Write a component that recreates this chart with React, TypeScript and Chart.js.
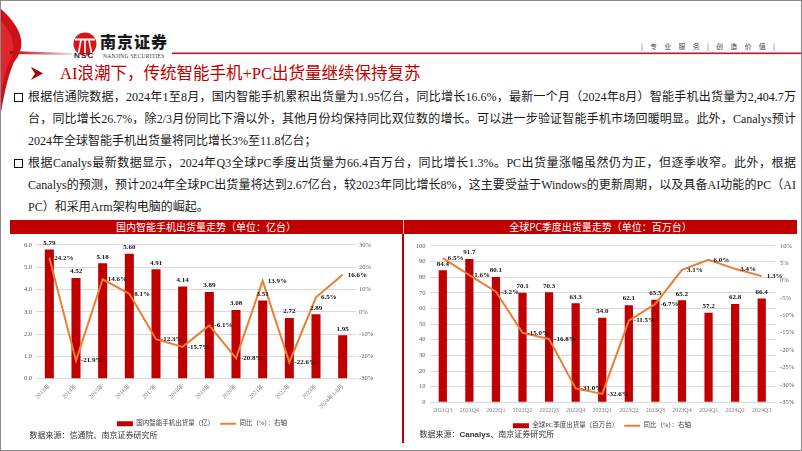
import React, { useEffect, useRef } from 'react';
import { Chart, registerables } from 'chart.js';

Chart.register(...registerables);

// ---------- data ----------
const phoneCategories = ['2013年', '2014年', '2015年', '2016年', '2017年', '2018年', '2019年', '2020年', '2021年', '2022年', '2023年', '2024年1-8月'];
const phoneShipments = [5.79, 4.52, 5.18, 5.6, 4.91, 4.14, 3.89, 3.08, 3.51, 2.72, 2.89, 1.95];
const phoneYoY = [24.2, -21.9, 14.6, 8.1, -12.3, -15.7, -6.1, -20.8, 13.9, -22.6, 6.5, 16.6];
const phoneLeftAxis = { min: 0, max: 6, step: 1 };
const phoneRightAxis = { min: -30, max: 30, step: 10 };

const pcCategories = ['2021Q3', '2021Q4', '2022Q1', '2022Q2', '2022Q3', '2022Q4', '2023Q1', '2023Q2', '2023Q3', '2023Q4', '2024Q1', '2024Q2', '2024Q3'];
const pcShipments = [84.4, 91.7, 80.1, 70.1, 70.3, 63.3, 54.0, 62.1, 65.5, 65.2, 57.2, 62.8, 66.4];
const pcYoY = [6.5, 1.6, -3.2, -15.0, -16.8, -31.0, -32.6, -11.5, -6.7, 3.1, 6.0, 3.4, 1.3];
const pcLeftAxis = { min: 0, max: 100, step: 10 };
const pcRightAxis = { min: -35, max: 10, step: 5 };

const phoneLegend = ['国内智能手机出货量（亿）', '同比（%）：右轴'];
const pcLegend = ['全球PC季度出货量（百万台）', '同比（%）：右轴'];

const paragraph1 = [
  '根据信通院数据，2024年1至8月，国内智能手机累积出货量为1.95亿台，同比增长16.6%，最新一个月（2024年8月）智能手机出货量为2,404.7万',
  '台，同比增长26.7%，除2/3月份同比下滑以外，其他月份均保持同比双位数的增长。可以进一步验证智能手机市场回暖明显。此外，Canalys预计',
  '2024年全球智能手机出货量将同比增长3%至11.8亿台；',
];
const paragraph2 = [
  '根据Canalys最新数据显示，2024年Q3全球PC季度出货量为66.4百万台，同比增长1.3%。PC出货量涨幅虽然仍为正，但逐季收窄。此外，根据',
  'Canalys的预测，预计2024年全球PC出货量将达到2.67亿台，较2023年同比增长8%，这主要受益于Windows的更新周期，以及具备AI功能的PC（AI',
  'PC）和采用Arm架构电脑的崛起。',
];

// ---------- styles ----------
const RED = '#C00000';
const ORANGE = '#ED7D31';
const SERIF = "'Liberation Serif', 'Noto Sans CJK SC', serif";

Chart.defaults.font.family = SERIF;

const valueLabels = {
  id: 'valueLabels',
  afterDatasetsDraw(chart: any, _args: any, opts: any) {
    const ctx = chart.ctx;
    ctx.save();
    ctx.font = `bold ${opts.size || 7}px ${SERIF}`;
    ctx.fillStyle = '#111';
    chart.data.datasets.forEach((ds: any, i: number) => {
      const meta = chart.getDatasetMeta(i);
      meta.data.forEach((el: any, j: number) => {
        const v = ds.data[j];
        if (ds.type === 'line') {
          ctx.textAlign = 'left';
          ctx.textBaseline = 'middle';
          ctx.fillText(v.toFixed(1) + '%', el.x + 5, el.y);
        } else {
          ctx.textAlign = 'center';
          ctx.textBaseline = 'bottom';
          ctx.fillText(v.toFixed(opts.barDecimals), el.x, el.y - 3);
        }
      });
    });
    ctx.restore();
  },
};

function buildConfig(p: any): any {
  return {
    type: 'bar',
    data: {
      labels: p.categories,
      datasets: [
        {
          type: 'bar',
          label: p.legend[0],
          data: p.bars,
          backgroundColor: RED,
          borderWidth: 0,
          barPercentage: p.barPct,
          categoryPercentage: 1,
          yAxisID: 'y',
          order: 2,
        },
        {
          type: 'line',
          label: p.legend[1],
          data: p.line,
          borderColor: ORANGE,
          backgroundColor: ORANGE,
          borderWidth: 2,
          pointRadius: 0,
          tension: 0,
          yAxisID: 'y1',
          order: 1,
        },
      ],
    },
    options: {
      responsive: false,
      animation: false,
      layout: { padding: { top: p.padTop, left: 0, right: 0, bottom: 0 } },
      plugins: {
        tooltip: { enabled: false },
        valueLabels: { size: 7, barDecimals: p.barDecimals },
        legend: {
          position: 'bottom',
          labels: {
            usePointStyle: true,
            pointStyleWidth: 16,
            boxHeight: 5,
            padding: 6,
            font: { size: 6.5 },
            color: '#404040',
            generateLabels: (chart: any) =>
              chart.data.datasets.map((ds: any, i: number) => ({
                text: ds.label,
                fillStyle: ds.type === 'line' ? ORANGE : RED,
                strokeStyle: ds.type === 'line' ? ORANGE : RED,
                lineWidth: ds.type === 'line' ? 2 : 0,
                pointStyle: ds.type === 'line' ? 'line' : 'rect',
                datasetIndex: i,
                hidden: false,
                fontColor: '#404040',
              })),
          },
        },
      },
      scales: {
        x: {
          grid: { display: false, drawTicks: false },
          border: { display: false },
          ticks: {
            autoSkip: false,
            minRotation: p.rotation,
            maxRotation: p.rotation,
            padding: p.xPad,
            font: { size: 6 },
            color: '#7f7f7f',
          },
          afterFit: (s: any) => {
            s.height = p.xHeight;
          },
        },
        y: {
          position: 'left',
          min: p.left.min,
          max: p.left.max,
          ticks: {
            stepSize: p.left.step,
            padding: 4,
            font: { size: 6.5 },
            color: '#595959',
            callback: (v: any) => (p.leftDecimals ? Number(v).toFixed(p.leftDecimals) : String(v)),
          },
          grid: { color: '#D9D9D9', drawTicks: false, lineWidth: 1 },
          border: { display: false },
          afterFit: (s: any) => {
            s.width = p.leftWidth;
          },
        },
        y1: {
          position: 'right',
          min: p.right.min,
          max: p.right.max,
          ticks: {
            stepSize: p.right.step,
            padding: p.rightPad,
            font: { size: 6.5 },
            color: '#595959',
            callback: (v: any) => v + '%',
          },
          grid: { display: false, drawTicks: false },
          border: { display: false },
          afterFit: (s: any) => {
            s.width = p.rightWidth;
          },
        },
      },
    },
    plugins: [valueLabels],
  };
}

function ChartCanvas({ config, left, top, width, height }: any) {
  const ref = useRef<HTMLCanvasElement>(null);
  useEffect(() => {
    const chart = new Chart(ref.current as HTMLCanvasElement, config);
    return () => chart.destroy();
  }, []);
  return (
    <canvas
      ref={ref}
      width={width}
      height={height}
      style={{ position: 'absolute', left, top, width, height }}
    />
  );
}

function TextLine({ text, justify }: { text: string; justify: boolean }) {
  return (
    <div
      style={{
        height: 22,
        lineHeight: '22px',
        textAlign: justify ? 'justify' : 'left',
        textAlignLast: justify ? 'justify' : 'left',
        whiteSpace: 'nowrap',
      } as any}
    >
      {text}
    </div>
  );
}

export default function App() {
  useEffect(() => {
    document.body.style.margin = '0';
  }, []);

  const phoneConfig = buildConfig({
    categories: phoneCategories,
    bars: phoneShipments,
    line: phoneYoY,
    legend: phoneLegend,
    left: phoneLeftAxis,
    right: phoneRightAxis,
    leftDecimals: 1,
    barDecimals: 2,
    barPct: 0.34,
    rotation: 45,
    xPad: 4,
    xHeight: 35.75,
    padTop: 5.7,
    leftWidth: 32,
    rightWidth: 44,
    rightPad: 3,
  });

  const pcConfig = buildConfig({
    categories: pcCategories,
    bars: pcShipments,
    line: pcYoY,
    legend: pcLegend,
    left: pcLeftAxis,
    right: pcRightAxis,
    leftDecimals: 0,
    barDecimals: 1,
    barPct: 0.31,
    rotation: 0,
    xPad: 5,
    xHeight: 14.2,
    padTop: 8,
    leftWidth: 25.5,
    rightWidth: 25,
    rightPad: 5,
  });

  const slogan = ['|', '专', '业', '服', '务', '|', '创', '造', '价', '值', '|'];

  return (
    <div
      style={{
        position: 'absolute',
        left: 0,
        top: 0,
        width: 802,
        height: 451,
        overflow: 'hidden',
        background: '#fff',
        fontFamily: SERIF,
        boxSizing: 'border-box',
        border: '1.5px solid #8a8a8a',
      }}
    >
      {/* decorative header graphics */}
      <svg width={802} height={130} style={{ position: 'absolute', left: -1.5, top: -1.5 }}>
        <defs>
          <linearGradient id="sw" x1="0" y1="0" x2="1" y2="0">
            <stop offset="0" stopColor="#C00000" />
            <stop offset="1" stopColor="#e0e0e0" />
          </linearGradient>
        </defs>
        <path d="M0,8 Q34,38 14,62 Q6,80 0,118 Z" fill="#D01018" />
        <path d="M0,20 Q22,42 8,64 Q3,78 0,100 Z" fill="#E8383D" opacity="0.6" />
        <path d="M10,51 L72,53 L72,55 L10,54 Z" fill="url(#sw)" />
        {/* logo */}
        <circle cx={85} cy={44} r={11.5} fill="#D7141A" />
        <rect x={75} y={38.5} width={20} height={2} fill="#fff" />
        <path d="M81,40 L78,56 M89,40 L92,56 M85,40 L85,56" stroke="#fff" strokeWidth={1.6} />
        <rect x={172} y={52.5} width={632} height={1.6} fill="#C8102E" />
        {/* title arrow */}
        <polygon points="31,67 43,73.5 31,80 35,73.5" fill="#C00000" />
        <polygon points="31,67 43,73.5 35,73.5" fill="#7a0000" opacity="0.5" />
      </svg>

      <div style={{ position: 'absolute', left: 99, top: 30, fontFamily: "'Noto Sans CJK SC'", fontWeight: 900, fontSize: 16, letterSpacing: 1, color: '#1a1a1a', lineHeight: '20px' }}>
        南京证券
      </div>
      <div style={{ position: 'absolute', left: 73, top: 50, fontFamily: "'Liberation Sans'", fontWeight: 700, fontSize: 8, letterSpacing: 1.2, color: '#1a1a1a', lineHeight: '9px' }}>
        NSC
      </div>
      <div style={{ position: 'absolute', left: 102, top: 51.5, fontFamily: "'Liberation Serif'", fontSize: 5.4, letterSpacing: 0.35, color: '#333', lineHeight: '6px' }}>
        NANJING SECURITIES
      </div>

      <div style={{ position: 'absolute', left: 640, top: 40, width: 134, display: 'flex', justifyContent: 'space-between', fontSize: 7, color: '#444', lineHeight: '10px', fontFamily: "'Noto Sans CJK SC'" }}>
        {slogan.map((c, i) => (
          <span key={i}>{c}</span>
        ))}
      </div>

      <div style={{ position: 'absolute', left: 59, top: 62, fontSize: 16.5, color: '#C00000', lineHeight: '22px', whiteSpace: 'nowrap' }}>
        AI浪潮下，传统智能手机+PC出货量继续保持复苏
      </div>

      {/* bullets */}
      <div style={{ position: 'absolute', left: 13, top: 92, width: 7, height: 7, border: '1.4px solid #111' }} />
      <div style={{ position: 'absolute', left: 13, top: 158, width: 7, height: 7, border: '1.4px solid #111' }} />

      <div style={{ position: 'absolute', left: 27, top: 85, width: 768, fontSize: 12, color: '#1a1a1a' }}>
        {paragraph1.map((t, i) => (
          <TextLine key={'a' + i} text={t} justify={i < paragraph1.length - 1} />
        ))}
        {paragraph2.map((t, i) => (
          <TextLine key={'b' + i} text={t} justify={i < paragraph2.length - 1} />
        ))}
      </div>

      {/* chart header bar */}
      <div style={{ position: 'absolute', left: 9, top: 219, width: 787, height: 14, background: RED }} />
      <div style={{ position: 'absolute', left: 401.5, top: 219, width: 1, height: 14, background: '#f3c0c0' }} />
      <div style={{ position: 'absolute', left: 9, top: 219, width: 392, height: 14, lineHeight: '14px', textAlign: 'center', color: '#fff', fontSize: 10, fontFamily: "'Noto Sans CJK SC'" }}>
        国内智能手机出货量走势（单位：亿台）
      </div>
      <div style={{ position: 'absolute', left: 403, top: 219, width: 393, height: 14, lineHeight: '14px', textAlign: 'center', color: '#fff', fontSize: 10, fontFamily: "'Noto Sans CJK SC'" }}>
        全球PC季度出货量走势（单位：百万台）
      </div>
      <div style={{ position: 'absolute', left: 400.5, top: 233, width: 2, height: 209, background: RED }} />

      <ChartCanvas config={phoneConfig} left={2.5} top={235.5} width={396} height={200} />
      <ChartCanvas config={pcConfig} left={402.5} top={235.5} width={396} height={202} />

      <div style={{ position: 'absolute', left: 28.5, top: 429, fontSize: 8, color: '#333', lineHeight: '10px', fontFamily: "'Noto Sans CJK SC'" }}>
        数据来源：信通院、南京证券研究所
      </div>
      <div style={{ position: 'absolute', left: 418.5, top: 429, fontSize: 8, color: '#333', lineHeight: '10px', fontFamily: "'Liberation Sans', 'Noto Sans CJK SC'" }}>
        数据来源：<b>Canalys</b>、南京证券研究所
      </div>
    </div>
  );
}
